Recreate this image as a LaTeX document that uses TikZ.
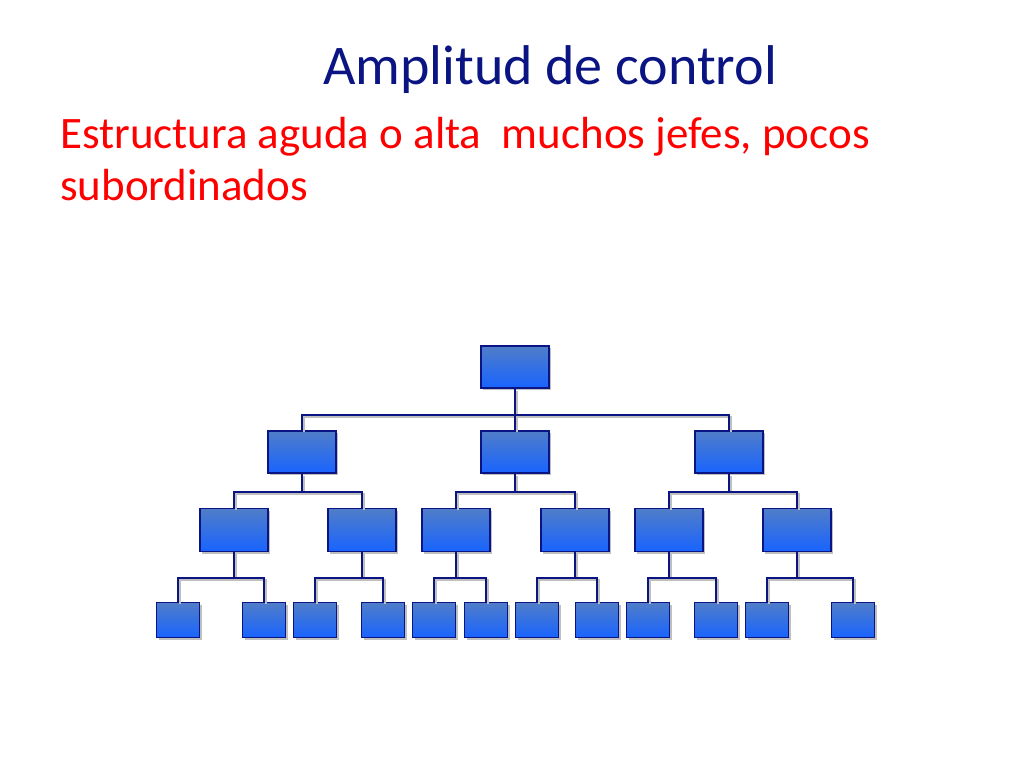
\documentclass[tikz,border=0pt]{standalone}
\usepackage{fontspec}
\setmainfont{Carlito}
\usetikzlibrary{shadows}
\definecolor{boxtop}{RGB}{80,125,200}
\definecolor{boxbot}{RGB}{25,100,255}
\definecolor{navy}{RGB}{10,20,130}
\tikzset{unit/.style={draw = navy,very thick,top color = boxtop,bottom color = boxbot,minimum width = #1,inner sep = 0pt,drop shadow = {shadow xshift = 2pt,shadow yshift = -2pt,opacity = .5}},
wire/.style = {draw = navy,very thick,preaction = {draw = gray!50,very thick,transform canvas = {shift = {(2pt,-2pt)}}}}}
\begin{document}
\begin{tikzpicture}[x = 1pt,y = -1pt]
\useasboundingbox (0,0) rectangle (1024,768);
\node[text = navy,font = \fontsize{56}{60}\selectfont,anchor = base] (title) at (550,84) {Amplitud de control};
\node[text = red,font = \fontsize{45}{52}\selectfont,anchor = base west,align = left,inner sep = 0pt] (sub) at (60,200) {Estructura aguda o alta\ \ muchos jefes, pocos \\ subordinados};

\node[unit = 68pt,minimum height = 42pt] (r) at (515,367) {};

\foreach \x/\n in {302/a,515/b,729/c}
  \node[unit = 68pt,minimum height = 42pt] (\n) at (\x,452) {};

\foreach \x/\n in {234/a1,362/a2,456/b1,575/b2,669/c1,797/c2}
  \node[unit = 68pt,minimum height = 43pt] (\n) at (\x,530) {};

\foreach \x/\n in {178/a11,264/a12,315/a21,383/a22,434/b11,486/b12,537/b21,597/b22,648/c11,716/c12,767/c21,853/c22}
  \node[unit = 43pt,minimum height = 35pt] (\n) at (\x,620) {};

% connectors
\draw[wire] (r.south) -- (r.south |- 0,415);
\draw[wire] (a.north) |- (c.north |- 0,415) -- (c.north);
\draw[wire] (b.north) -- (b.north |- 0,415);
\foreach \p/\y/\l/\rr in {a/492/a1/a2,b/492/b1/b2,c/492/c1/c2,a1/578/a11/a12,a2/578/a21/a22,b1/578/b11/b12,b2/578/b21/b22,c1/578/c11/c12,c2/578/c21/c22}{
  \draw[wire] (\p.south) -- (\p.south |- 0,\y);
  \draw[wire] (\l.north) |- (\rr.north |- 0,\y) -- (\rr.north);
}
\end{tikzpicture}
\end{document}
